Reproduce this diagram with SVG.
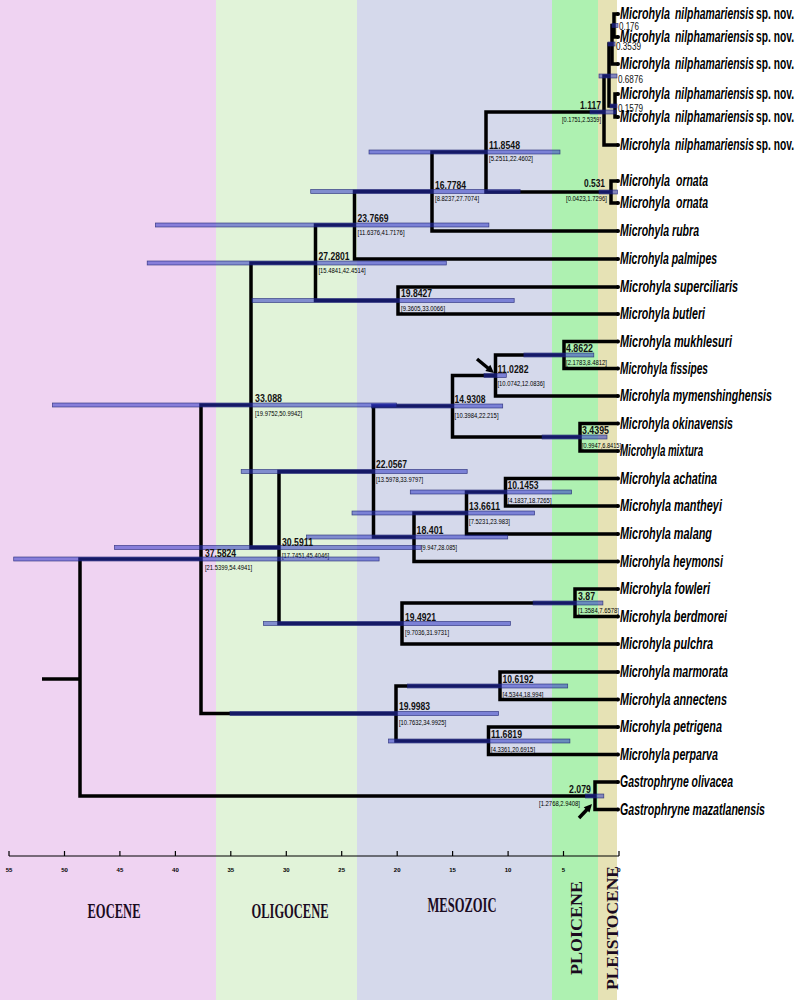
<svg xmlns="http://www.w3.org/2000/svg" width="800" height="1000" viewBox="0 0 800 1000">
<style>
.br{fill:none;stroke:#000;stroke-width:3.5;stroke-linejoin:miter;stroke-linecap:butt}
.dot{fill:#000}
.bar{fill:#2830c4;fill-opacity:0.52;stroke:#1c2070;stroke-width:0.7;stroke-opacity:0.8}
.tip{font-family:"Liberation Sans",Arial,sans-serif;font-size:16px;font-style:italic;font-weight:bold;fill:#000}
.up{font-style:normal}
.age{font-family:"Liberation Sans",Arial,sans-serif;font-size:11.5px;font-weight:bold;fill:#111}
.sm{font-weight:normal}
.ci{font-family:"Liberation Sans",Arial,sans-serif;font-size:7px;fill:#000}
.era{font-family:"Liberation Serif","Times New Roman",serif;font-weight:bold;fill:#1b0b1f}
.ax{font-family:"Liberation Sans",Arial,sans-serif;font-size:6px;font-weight:bold;text-anchor:middle}
.end{text-anchor:end}
</style>
<g id="background">
<rect x="0" y="0" width="216" height="1000" fill="#efd3f2"/>
<rect x="216" y="0" width="141" height="1000" fill="#e1f3d9"/>
<rect x="357" y="0" width="195" height="1000" fill="#d5d9eb"/>
<rect x="552" y="0" width="46" height="1000" fill="#aef1b1"/>
<rect x="598" y="0" width="19" height="1000" fill="#e6e2b5"/>
</g>
<g id="connectors">
<path class="br" d="M618 14 H614 V37 H618"/>
<path class="br" d="M614 25.5 H612 V64 H618"/>
<path class="br" d="M618 94 H615 V117 H618"/>
<path class="br" d="M612 44 H609 V106 H615"/>
<path class="br" d="M609 76 H604 V145 H618"/>
<path class="br" d="M618 181 H611 V203 H618"/>
<path class="br" d="M604 112 H486 V192 H611"/>
<path class="br" d="M486 152 H432 V231 H618"/>
<path class="br" d="M432 191.5 H354.5 V259 H618"/>
<path class="br" d="M618 287 H398 V314 H618"/>
<path class="br" d="M354.5 225 H315.5 V300.5 H398"/>
<path class="br" d="M618 341.5 H564 V368.5 H618"/>
<path class="br" d="M564 355 H495.5 V396 H618"/>
<path class="br" d="M618 423.5 H580 V451 H618"/>
<path class="br" d="M495.5 375.5 H452.5 V437 H580"/>
<path class="br" d="M618 478.5 H505.5 V506 H618"/>
<path class="br" d="M505.5 492 H466.5 V534 H618"/>
<path class="br" d="M466.5 513 H414 V561.5 H618"/>
<path class="br" d="M452.5 406 H373.5 V537 H414"/>
<path class="br" d="M618 589 H575 V616.5 H618"/>
<path class="br" d="M575 603 H402 V644 H618"/>
<path class="br" d="M373.5 471.5 H279 V623.5 H402"/>
<path class="br" d="M315.5 263 H251 V547.5 H279"/>
<path class="br" d="M618 672 H500 V699.5 H618"/>
<path class="br" d="M618 727 H488.5 V754.5 H618"/>
<path class="br" d="M500 686 H396 V741 H488.5"/>
<path class="br" d="M251 405 H201 V713.5 H396"/>
<path class="br" d="M618 782 H595 V809.5 H618"/>
<path class="br" d="M201 559 H80 V796 H595"/>
<path class="br" d="M42 679 H80"/>
<g class="dot">
<circle cx="618" cy="14" r="2"/><circle cx="618" cy="37" r="2"/><circle cx="618" cy="64" r="2"/><circle cx="618" cy="94" r="2"/><circle cx="618" cy="117" r="2"/><circle cx="618" cy="145" r="2"/><circle cx="618" cy="181" r="2"/><circle cx="618" cy="203" r="2"/><circle cx="618" cy="231" r="2"/><circle cx="618" cy="259" r="2"/><circle cx="618" cy="287" r="2"/><circle cx="618" cy="314" r="2"/><circle cx="618" cy="341.5" r="2"/><circle cx="618" cy="368.5" r="2"/><circle cx="618" cy="396" r="2"/><circle cx="618" cy="423.5" r="2"/><circle cx="618" cy="451" r="2"/><circle cx="618" cy="478.5" r="2"/><circle cx="618" cy="506" r="2"/><circle cx="618" cy="534" r="2"/><circle cx="618" cy="561.5" r="2"/><circle cx="618" cy="589" r="2"/><circle cx="618" cy="616.5" r="2"/><circle cx="618" cy="644" r="2"/><circle cx="618" cy="672" r="2"/><circle cx="618" cy="699.5" r="2"/><circle cx="618" cy="727" r="2"/><circle cx="618" cy="754.5" r="2"/><circle cx="618" cy="782" r="2"/><circle cx="618" cy="809.5" r="2"/>
</g>
</g>
<g id="node-A"><rect class="bar" x="612" y="23.5" width="6" height="4"/><text class="age sm" transform="translate(619,30) scale(0.75,1)" textLength="26.7" lengthAdjust="spacingAndGlyphs">0.176</text></g>
<g id="node-B"><rect class="bar" x="608" y="42" width="7" height="4"/><text class="age sm" transform="translate(616,50) scale(0.75,1)" textLength="33.3" lengthAdjust="spacingAndGlyphs">0.3539</text></g>
<g id="node-C"><rect class="bar" x="610" y="104" width="7" height="4"/><text class="age sm" transform="translate(618,112) scale(0.75,1)" textLength="33.3" lengthAdjust="spacingAndGlyphs">0.1579</text></g>
<g id="node-D"><rect class="bar" x="599" y="74" width="18" height="4"/><text class="age sm" transform="translate(618,83) scale(0.75,1)" textLength="33.3" lengthAdjust="spacingAndGlyphs">0.6876</text></g>
<g id="node-E"><rect class="bar" x="590" y="110" width="26" height="4"/><text class="age end" transform="translate(601,109) scale(0.75,1)" textLength="28" lengthAdjust="spacingAndGlyphs">1.117</text><text class="ci end" transform="translate(601,122) scale(0.84,1)" textLength="46.4" lengthAdjust="spacingAndGlyphs">[0.1751,2.5359]</text></g>
<g id="node-F"><rect class="bar" x="599" y="190" width="18.5" height="4"/><text class="age end" transform="translate(605,187) scale(0.75,1)" textLength="28" lengthAdjust="spacingAndGlyphs">0.531</text><text class="ci end" transform="translate(607,201) scale(0.84,1)" textLength="48.8" lengthAdjust="spacingAndGlyphs">[0.0423,1.7296]</text></g>
<g id="node-G"><rect class="bar" x="369" y="150" width="191" height="4"/><text class="age" transform="translate(489,149) scale(0.75,1)" textLength="41.3" lengthAdjust="spacingAndGlyphs">11.8548</text><text class="ci" transform="translate(489,161) scale(0.84,1)" textLength="52.4" lengthAdjust="spacingAndGlyphs">[5.2511,22.4602]</text></g>
<g id="node-H"><rect class="bar" x="310.7" y="189.5" width="209.4" height="4"/><text class="age" transform="translate(435,189) scale(0.75,1)" textLength="41.3" lengthAdjust="spacingAndGlyphs">16.7784</text><text class="ci" transform="translate(435,201) scale(0.84,1)" textLength="52.4" lengthAdjust="spacingAndGlyphs">[8.8237,27.7074]</text></g>
<g id="node-I"><rect class="bar" x="155.4" y="223" width="333.5" height="4"/><text class="age" transform="translate(357.5,222) scale(0.75,1)" textLength="41.3" lengthAdjust="spacingAndGlyphs">23.7669</text><text class="ci" transform="translate(357.5,235) scale(0.84,1)" textLength="56" lengthAdjust="spacingAndGlyphs">[11.6376,41.7176]</text></g>
<g id="node-J"><rect class="bar" x="252" y="298.5" width="262.2" height="4"/><text class="age" transform="translate(401,297) scale(0.75,1)" textLength="41.3" lengthAdjust="spacingAndGlyphs">19.8427</text><text class="ci" transform="translate(401,311) scale(0.84,1)" textLength="52.4" lengthAdjust="spacingAndGlyphs">[9.3605,33.0066]</text></g>
<g id="node-K"><rect class="bar" x="147.2" y="261" width="299.1" height="4"/><text class="age" transform="translate(318.5,260) scale(0.75,1)" textLength="41.3" lengthAdjust="spacingAndGlyphs">27.2801</text><text class="ci" transform="translate(318.5,273) scale(0.84,1)" textLength="56" lengthAdjust="spacingAndGlyphs">[15.4841,42.4514]</text></g>
<g id="node-L"><rect class="bar" x="523.9" y="353" width="69.9" height="4"/><text class="age" transform="translate(566,352) scale(0.75,1)" textLength="36" lengthAdjust="spacingAndGlyphs">4.8622</text><text class="ci" transform="translate(566,365) scale(0.84,1)" textLength="48.8" lengthAdjust="spacingAndGlyphs">[2.1783,8.4812]</text></g>
<g id="node-M"><rect class="bar" x="484" y="373.5" width="22.3" height="4"/><text class="age" transform="translate(497.5,373) scale(0.75,1)" textLength="41.3" lengthAdjust="spacingAndGlyphs">11.0282</text><text class="ci" transform="translate(497.5,386) scale(0.84,1)" textLength="56" lengthAdjust="spacingAndGlyphs">[10.0742,12.0836]</text></g>
<g id="node-N"><rect class="bar" x="542.1" y="435" width="64.9" height="4"/><text class="age" transform="translate(582,434) scale(0.75,1)" textLength="36" lengthAdjust="spacingAndGlyphs">3.4395</text><text class="ci" transform="translate(582,448) scale(0.84,1)" textLength="46.4" lengthAdjust="spacingAndGlyphs">[0.9947,6.8415]</text></g>
<g id="node-O"><rect class="bar" x="371.6" y="404" width="131.1" height="4"/><text class="age" transform="translate(454.5,403) scale(0.75,1)" textLength="41.3" lengthAdjust="spacingAndGlyphs">14.9308</text><text class="ci" transform="translate(454.5,418) scale(0.84,1)" textLength="52.4" lengthAdjust="spacingAndGlyphs">[10.3984,22.215]</text></g>
<g id="node-P"><rect class="bar" x="410.3" y="490" width="161.3" height="4"/><text class="age" transform="translate(507.5,489) scale(0.75,1)" textLength="41.3" lengthAdjust="spacingAndGlyphs">10.1453</text><text class="ci" transform="translate(507.5,503) scale(0.84,1)" textLength="52.4" lengthAdjust="spacingAndGlyphs">[4.1837,18.7265]</text></g>
<g id="node-Q"><rect class="bar" x="352" y="511" width="182.6" height="4"/><text class="age" transform="translate(469,510) scale(0.75,1)" textLength="41.3" lengthAdjust="spacingAndGlyphs">13.6611</text><text class="ci" transform="translate(469,524) scale(0.84,1)" textLength="48.8" lengthAdjust="spacingAndGlyphs">[7.5231,23.983]</text></g>
<g id="node-R"><rect class="bar" x="306.5" y="535" width="201.2" height="4"/><text class="age" transform="translate(416.5,534) scale(0.75,1)" textLength="36" lengthAdjust="spacingAndGlyphs">18.401</text><text class="ci" transform="translate(421,550) scale(0.84,1)" textLength="42.9" lengthAdjust="spacingAndGlyphs">[9.947,28.085]</text></g>
<g id="node-S"><rect class="bar" x="241.2" y="469.5" width="226" height="4"/><text class="age" transform="translate(376,468) scale(0.75,1)" textLength="41.3" lengthAdjust="spacingAndGlyphs">22.0567</text><text class="ci" transform="translate(376,482) scale(0.84,1)" textLength="56" lengthAdjust="spacingAndGlyphs">[13.5978,33.9797]</text></g>
<g id="node-T"><rect class="bar" x="533.1" y="601" width="69.8" height="4"/><text class="age" transform="translate(578,600) scale(0.75,1)" textLength="22.7" lengthAdjust="spacingAndGlyphs">3.87</text><text class="ci" transform="translate(578,613) scale(0.84,1)" textLength="48.8" lengthAdjust="spacingAndGlyphs">[1.3584,7.6578]</text></g>
<g id="node-U"><rect class="bar" x="263.4" y="621.5" width="247" height="4"/><text class="age" transform="translate(405,621) scale(0.75,1)" textLength="41.3" lengthAdjust="spacingAndGlyphs">19.4921</text><text class="ci" transform="translate(405,635) scale(0.84,1)" textLength="52.4" lengthAdjust="spacingAndGlyphs">[9.7036,31.9731]</text></g>
<g id="node-V"><rect class="bar" x="114.5" y="545.5" width="306.7" height="4"/><text class="age" transform="translate(282,546) scale(0.75,1)" textLength="41.3" lengthAdjust="spacingAndGlyphs">30.5911</text><text class="ci" transform="translate(282,558) scale(0.84,1)" textLength="56" lengthAdjust="spacingAndGlyphs">[17.7451,45.4046]</text></g>
<g id="node-W"><rect class="bar" x="52.5" y="403" width="344" height="4"/><text class="age" transform="translate(255,402) scale(0.75,1)" textLength="36" lengthAdjust="spacingAndGlyphs">33.088</text><text class="ci" transform="translate(255,416) scale(0.84,1)" textLength="56" lengthAdjust="spacingAndGlyphs">[19.9752,50.9942]</text></g>
<g id="node-X"><rect class="bar" x="407.4" y="684" width="160.3" height="4"/><text class="age" transform="translate(502.5,683) scale(0.75,1)" textLength="41.3" lengthAdjust="spacingAndGlyphs">10.6192</text><text class="ci" transform="translate(502.5,697) scale(0.84,1)" textLength="48.8" lengthAdjust="spacingAndGlyphs">[4.5344,18.994]</text></g>
<g id="node-Y"><rect class="bar" x="388.5" y="739" width="181.4" height="4"/><text class="age" transform="translate(491,738) scale(0.75,1)" textLength="41.3" lengthAdjust="spacingAndGlyphs">11.6819</text><text class="ci" transform="translate(491,752) scale(0.84,1)" textLength="52.4" lengthAdjust="spacingAndGlyphs">[4.3361,20.6915]</text></g>
<g id="node-Z"><rect class="bar" x="230" y="711.5" width="268.6" height="4"/><text class="age" transform="translate(399,710) scale(0.75,1)" textLength="41.3" lengthAdjust="spacingAndGlyphs">19.9983</text><text class="ci" transform="translate(399,725) scale(0.84,1)" textLength="56" lengthAdjust="spacingAndGlyphs">[10.7632,34.9925]</text></g>
<g id="node-AA"><rect class="bar" x="13.7" y="557" width="365.4" height="4"/><text class="age" transform="translate(205,557) scale(0.75,1)" textLength="41.3" lengthAdjust="spacingAndGlyphs">37.5824</text><text class="ci" transform="translate(205,570) scale(0.84,1)" textLength="56" lengthAdjust="spacingAndGlyphs">[21.5399,54.4941]</text></g>
<g id="node-BB"><rect class="bar" x="585.4" y="794" width="18.4" height="4"/><text class="age end" transform="translate(591,793) scale(0.75,1)" textLength="29.3" lengthAdjust="spacingAndGlyphs">2.079</text><text class="ci end" transform="translate(580,806) scale(0.84,1)" textLength="48.8" lengthAdjust="spacingAndGlyphs">[1.2768,2.9408]</text></g>
<g id="arrows">
<path d="M477 359 L488.5 368.5" stroke="#000" stroke-width="3.5" fill="none"/>
<polygon points="494,373 485.3,371 490.3,364.8" fill="#000"/>
<path d="M579 818 L587.5 809" stroke="#000" stroke-width="3.5" fill="none"/>
<polygon points="592,804 589.5,812.6 583.7,807.2" fill="#000"/>
</g>
<g id="tips">
<g id="tip-n1"><text class="tip" transform="translate(620,19) scale(0.66,1)" textLength="75.8" lengthAdjust="spacingAndGlyphs">Microhyla</text><text class="tip" transform="translate(675,19) scale(0.66,1)" textLength="119.7" lengthAdjust="spacingAndGlyphs">nilphamariensis</text><text class="tip up" transform="translate(756,19) scale(0.66,1)" textLength="57.6" lengthAdjust="spacingAndGlyphs">sp. nov.</text></g>
<g id="tip-n2"><text class="tip" transform="translate(620,42) scale(0.66,1)" textLength="75.8" lengthAdjust="spacingAndGlyphs">Microhyla</text><text class="tip" transform="translate(675,42) scale(0.66,1)" textLength="119.7" lengthAdjust="spacingAndGlyphs">nilphamariensis</text><text class="tip up" transform="translate(756,42) scale(0.66,1)" textLength="57.6" lengthAdjust="spacingAndGlyphs">sp. nov.</text></g>
<g id="tip-n3"><text class="tip" transform="translate(620,69) scale(0.66,1)" textLength="75.8" lengthAdjust="spacingAndGlyphs">Microhyla</text><text class="tip" transform="translate(675,69) scale(0.66,1)" textLength="119.7" lengthAdjust="spacingAndGlyphs">nilphamariensis</text><text class="tip up" transform="translate(756,69) scale(0.66,1)" textLength="57.6" lengthAdjust="spacingAndGlyphs">sp. nov.</text></g>
<g id="tip-n4"><text class="tip" transform="translate(620,99) scale(0.66,1)" textLength="75.8" lengthAdjust="spacingAndGlyphs">Microhyla</text><text class="tip" transform="translate(675,99) scale(0.66,1)" textLength="119.7" lengthAdjust="spacingAndGlyphs">nilphamariensis</text><text class="tip up" transform="translate(756,99) scale(0.66,1)" textLength="57.6" lengthAdjust="spacingAndGlyphs">sp. nov.</text></g>
<g id="tip-n5"><text class="tip" transform="translate(620,122) scale(0.66,1)" textLength="75.8" lengthAdjust="spacingAndGlyphs">Microhyla</text><text class="tip" transform="translate(675,122) scale(0.66,1)" textLength="119.7" lengthAdjust="spacingAndGlyphs">nilphamariensis</text><text class="tip up" transform="translate(756,122) scale(0.66,1)" textLength="57.6" lengthAdjust="spacingAndGlyphs">sp. nov.</text></g>
<g id="tip-n6"><text class="tip" transform="translate(620,150) scale(0.66,1)" textLength="75.8" lengthAdjust="spacingAndGlyphs">Microhyla</text><text class="tip" transform="translate(675,150) scale(0.66,1)" textLength="119.7" lengthAdjust="spacingAndGlyphs">nilphamariensis</text><text class="tip up" transform="translate(756,150) scale(0.66,1)" textLength="57.6" lengthAdjust="spacingAndGlyphs">sp. nov.</text></g>
<g id="tip-or1"><text class="tip" transform="translate(620,186) scale(0.66,1)" textLength="75.8" lengthAdjust="spacingAndGlyphs">Microhyla</text><text class="tip" transform="translate(676,186) scale(0.66,1)" textLength="48.5" lengthAdjust="spacingAndGlyphs">ornata</text></g>
<g id="tip-or2"><text class="tip" transform="translate(620,208) scale(0.66,1)" textLength="75.8" lengthAdjust="spacingAndGlyphs">Microhyla</text><text class="tip" transform="translate(676,208) scale(0.66,1)" textLength="48.5" lengthAdjust="spacingAndGlyphs">ornata</text></g>
<g id="tip-rubra"><text class="tip" transform="translate(620,236) scale(0.66,1)" textLength="119.7" lengthAdjust="spacingAndGlyphs">Microhyla rubra</text></g>
<g id="tip-palmipes"><text class="tip" transform="translate(620,264) scale(0.66,1)" textLength="147" lengthAdjust="spacingAndGlyphs">Microhyla palmipes</text></g>
<g id="tip-superciliaris"><text class="tip" transform="translate(620,292) scale(0.66,1)" textLength="178.8" lengthAdjust="spacingAndGlyphs">Microhyla superciliaris</text></g>
<g id="tip-butleri"><text class="tip" transform="translate(620,319) scale(0.66,1)" textLength="128.8" lengthAdjust="spacingAndGlyphs">Microhyla butleri</text></g>
<g id="tip-mukhlesuri"><text class="tip" transform="translate(620,346.5) scale(0.66,1)" textLength="169.7" lengthAdjust="spacingAndGlyphs">Microhyla mukhlesuri</text></g>
<g id="tip-fissipes"><text class="tip" transform="translate(620,373.5) scale(0.66,1)" textLength="133.3" lengthAdjust="spacingAndGlyphs">Microhyla fissipes</text></g>
<g id="tip-mymenshinghensis"><text class="tip" transform="translate(620,401) scale(0.66,1)" textLength="230.3" lengthAdjust="spacingAndGlyphs">Microhyla mymenshinghensis</text></g>
<g id="tip-okinavensis"><text class="tip" transform="translate(620,428.5) scale(0.66,1)" textLength="171.2" lengthAdjust="spacingAndGlyphs">Microhyla okinavensis</text></g>
<g id="tip-mixtura"><text class="tip" transform="translate(620,456) scale(0.66,1)" textLength="125.8" lengthAdjust="spacingAndGlyphs">Microhyla mixtura</text></g>
<g id="tip-achatina"><text class="tip" transform="translate(620,483.5) scale(0.66,1)" textLength="147" lengthAdjust="spacingAndGlyphs">Microhyla achatina</text></g>
<g id="tip-mantheyi"><text class="tip" transform="translate(620,511) scale(0.66,1)" textLength="154.5" lengthAdjust="spacingAndGlyphs">Microhyla mantheyi</text></g>
<g id="tip-malang"><text class="tip" transform="translate(620,539) scale(0.66,1)" textLength="139.4" lengthAdjust="spacingAndGlyphs">Microhyla malang</text></g>
<g id="tip-heymonsi"><text class="tip" transform="translate(620,566.5) scale(0.66,1)" textLength="156.1" lengthAdjust="spacingAndGlyphs">Microhyla heymonsi</text></g>
<g id="tip-fowleri"><text class="tip" transform="translate(620,594) scale(0.66,1)" textLength="136.4" lengthAdjust="spacingAndGlyphs">Microhyla fowleri</text></g>
<g id="tip-berdmorei"><text class="tip" transform="translate(620,621.5) scale(0.66,1)" textLength="162.1" lengthAdjust="spacingAndGlyphs">Microhyla berdmorei</text></g>
<g id="tip-pulchra"><text class="tip" transform="translate(620,649) scale(0.66,1)" textLength="140.9" lengthAdjust="spacingAndGlyphs">Microhyla pulchra</text></g>
<g id="tip-marmorata"><text class="tip" transform="translate(620,677) scale(0.66,1)" textLength="163.6" lengthAdjust="spacingAndGlyphs">Microhyla marmorata</text></g>
<g id="tip-annectens"><text class="tip" transform="translate(620,704.5) scale(0.66,1)" textLength="162.1" lengthAdjust="spacingAndGlyphs">Microhyla annectens</text></g>
<g id="tip-petrigena"><text class="tip" transform="translate(620,732) scale(0.66,1)" textLength="154.5" lengthAdjust="spacingAndGlyphs">Microhyla petrigena</text></g>
<g id="tip-perparva"><text class="tip" transform="translate(620,759.5) scale(0.66,1)" textLength="148.5" lengthAdjust="spacingAndGlyphs">Microhyla perparva</text></g>
<g id="tip-olivacea"><text class="tip" transform="translate(620,787) scale(0.66,1)" textLength="171.2" lengthAdjust="spacingAndGlyphs">Gastrophryne olivacea</text></g>
<g id="tip-mazatlanensis"><text class="tip" transform="translate(620,814.5) scale(0.66,1)" textLength="219.7" lengthAdjust="spacingAndGlyphs">Gastrophryne mazatlanensis</text></g>
</g>
<g id="axis">
<path d="M9 856 H619 M9 856 V851 M64.5 856 V851 M119.9 856 V851 M175.4 856 V851 M230.8 856 V851 M286.3 856 V851 M341.7 856 V851 M397.2 856 V851 M452.6 856 V851 M508.1 856 V851 M563.5 856 V851 M619 856 V851" stroke="#000" stroke-width="1.2" fill="none"/>
<text class="ax" x="9" y="872">55</text><text class="ax" x="64.5" y="872">50</text><text class="ax" x="119.9" y="872">45</text><text class="ax" x="175.4" y="872">40</text><text class="ax" x="230.8" y="872">35</text><text class="ax" x="286.3" y="872">30</text><text class="ax" x="341.7" y="872">25</text><text class="ax" x="397.2" y="872">20</text><text class="ax" x="452.6" y="872">15</text><text class="ax" x="508.1" y="872">10</text><text class="ax" x="563.5" y="872">5</text><text class="ax" x="619" y="872">0</text>
</g>
<g id="eras">
<text class="era" transform="translate(114,918) scale(0.57,1)" font-size="22" text-anchor="middle" textLength="93" lengthAdjust="spacingAndGlyphs">EOCENE</text>
<text class="era" transform="translate(290,918) scale(0.57,1)" font-size="22" text-anchor="middle" textLength="135.1" lengthAdjust="spacingAndGlyphs">OLIGOCENE</text>
<text class="era" transform="translate(462,912) scale(0.57,1)" font-size="22" text-anchor="middle" textLength="121.1" lengthAdjust="spacingAndGlyphs">MESOZOIC</text>
<text class="era" transform="translate(582,928) rotate(-90)" font-size="17.6" text-anchor="middle" textLength="94" lengthAdjust="spacingAndGlyphs">PLOICENE</text>
<text class="era" transform="translate(618,928) rotate(-90)" font-size="17.7" text-anchor="middle" textLength="124" lengthAdjust="spacingAndGlyphs">PLEISTOCENE</text>
</g>
</svg>
